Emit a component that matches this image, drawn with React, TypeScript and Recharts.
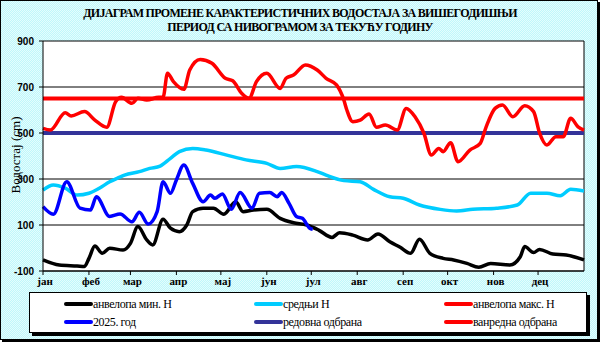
import { LineChart, Line, XAxis, YAxis, CartesianGrid, ReferenceLine } from 'recharts';

const MONTHS = ['јан', 'феб', 'мар', 'апр', 'мај', 'јун', 'јул', 'авг', 'сеп', 'окт', 'нов', 'дец'];
const MONTH_START = [0, 31, 59, 90, 120, 151, 181, 212, 243, 273, 304, 334];
const Y_TICKS = [-100, 100, 300, 500, 700, 900];

// анвелопа мин. H
const minDays = [0, 11, 23, 28, 31, 35, 40, 45, 54, 59, 64, 70, 74, 81, 86, 92, 97, 101, 108, 115, 122, 130, 135, 142, 151, 160, 169, 178, 186, 195, 200, 209, 219, 226, 234, 241, 248, 254, 261, 270, 277, 286, 294, 302, 315, 322, 325, 331, 335, 344, 353, 365];
const minH = [-52, -74, -78, -80, -45, 9, -23, -1, -9, 20, 93, 35, 13, 125, 86, 71, 100, 158, 173, 173, 147, 201, 158, 165, 168, 129, 110, 100, 78, 46, 66, 56, 35, 61, 27, 3, -23, 38, -23, -45, -52, -67, -84, -67, -74, -38, 6, -20, -6, -26, -30, -52];

// средњи H
const meanDays = [0, 7, 15, 23, 31, 38, 45, 51, 55, 65, 72, 79, 86, 92, 101, 110, 124, 137, 151, 160, 171, 185, 191, 203, 214, 223, 234, 243, 254, 268, 279, 290, 306, 320, 329, 340, 349, 356, 365];
const meanH = [252, 274, 260, 230, 238, 260, 288, 306, 317, 332, 346, 356, 390, 419, 433, 426, 404, 383, 368, 346, 354, 332, 317, 293, 288, 255, 223, 216, 187, 168, 161, 168, 173, 187, 238, 238, 227, 255, 248];

// анвелопа макс. H
const maxDays = [0, 5, 15, 19, 28, 35, 43, 49, 53, 60, 64, 70, 78, 81, 84, 88, 95, 99, 106, 114, 123, 128, 134, 139, 144, 151, 160, 164, 169, 177, 185, 191, 198, 203, 205, 209, 214, 220, 225, 231, 239, 245, 251, 257, 262, 267, 270, 275, 280, 288, 295, 299, 305, 310, 317, 325, 331, 335, 340, 346, 351, 356, 361, 365];
const maxH = [520, 513, 588, 574, 593, 556, 525, 636, 655, 629, 651, 643, 655, 655, 760, 723, 690, 774, 820, 803, 738, 727, 673, 651, 723, 760, 694, 738, 752, 796, 774, 738, 709, 643, 600, 549, 556, 583, 525, 535, 513, 607, 571, 499, 404, 433, 419, 458, 375, 426, 455, 527, 607, 622, 571, 619, 593, 501, 448, 484, 484, 564, 527, 513];

// 2025. год
const curDays = [0, 7, 16, 25, 32, 36, 45, 52, 60, 65, 71, 77, 81, 86, 90, 95, 101, 108, 113, 116, 121, 127, 133, 141, 146, 153, 158, 161, 166, 171, 175, 180, 182];
const curH = [180, 147, 288, 173, 165, 223, 137, 148, 114, 155, 104, 158, 288, 238, 296, 361, 281, 201, 230, 216, 235, 168, 241, 173, 238, 241, 223, 241, 194, 137, 129, 86, 81];

const REDOVNA = 500;
const VANREDNA = 650;

const toRows = (days: number[], vals: number[]) => days.map((d, i) => ({ day: d, h: vals[i] }));

const SERIES = [
  { name: 'анвелопа мин. H', color: '#000000', data: toRows(minDays, minH) },
  { name: 'средњи H', color: '#00CCFF', data: toRows(meanDays, meanH) },
  { name: 'анвелопа макс. H', color: '#FF0000', data: toRows(maxDays, maxH) },
  { name: '2025. год', color: '#0000FF', data: toRows(curDays, curH) },
];

const LEGEND = [
  { name: 'анвелопа мин. H', color: '#000000' },
  { name: 'средњи H', color: '#00CCFF' },
  { name: 'анвелопа макс. H', color: '#FF0000' },
  { name: '2025. год', color: '#0000FF' },
  { name: 'редовна одбрана', color: '#333399' },
  { name: 'ванредна одбрана', color: '#FF0000' },
];

const serif = '"Liberation Serif", "Times New Roman", serif';

const MonthTick = ({ x, y, payload }: any) => (
  <text x={x + 2} y={y + 8} textAnchor="middle" fontFamily={serif} fontWeight="bold" fontSize={11} fill="#000">
    {MONTHS[MONTH_START.indexOf(payload.value)]}
  </text>
);

const App = () => (
  <div style={{ position: 'relative', width: 600, height: 343 }}>
    <style>{'body{margin:0}'}</style>
    <div
      style={{
        position: 'absolute', left: 0, top: 0, width: 596, height: 338,
        border: '1px solid #000', boxShadow: '2px 2px 0 #000',
        background: 'repeating-conic-gradient(#bff7fb 0 25%, #e4fdfd 0 50%) 0 0/2px 2px',
      }}
    />
    <div
      style={{
        position: 'absolute', left: 0, top: 6, width: 600, textAlign: 'center',
        fontFamily: serif, fontWeight: 'bold', fontSize: 12, lineHeight: '14px', letterSpacing: -0.7, color: '#000',
      }}
    >
      <div>ДИЈАГРАМ ПРОМЕНЕ КАРАКТЕРИСТИЧНИХ ВОДОСТАЈА ЗА ВИШЕГОДИШЊИ</div>
      <div>ПЕРИОД СА НИВОГРАМОМ ЗА ТЕКУЋУ ГОДИНУ</div>
    </div>
    <div style={{ position: 'absolute', left: 0, top: 0 }}>
      <LineChart width={600} height={343} margin={{ top: 41, right: 16, bottom: 42, left: 0 }}>
        <CartesianGrid fill="#fff" vertical={false} stroke="#000" strokeWidth={1} />
        <XAxis
          dataKey="day"
          type="number"
          domain={[0, 365]}
          ticks={MONTH_START}
          interval={0}
          tick={<MonthTick />}
          tickSize={4}
          axisLine={{ stroke: '#000' }}
          tickLine={{ stroke: '#000' }}
          height={30}
          allowDuplicatedCategory={false}
        />
        <YAxis
          type="number"
          domain={[-100, 900]}
          ticks={Y_TICKS}
          interval={0}
          width={43}
          tickSize={4}
          tickMargin={5}
          tick={{ fontSize: 10, fontWeight: 'bold', fill: '#000', fontFamily: '"Liberation Sans", Arial, sans-serif' }}
          axisLine={{ stroke: '#000' }}
          tickLine={{ stroke: '#000' }}
        />
        <ReferenceLine x={365} stroke="#000" strokeWidth={1} />
        <ReferenceLine y={REDOVNA} stroke="#333399" strokeWidth={4} />
        <ReferenceLine y={VANREDNA} stroke="#FF0000" strokeWidth={4} />
        {SERIES.map((s) => (
          <Line
            key={s.name}
            data={s.data}
            dataKey="h"
            name={s.name}
            type="monotone"
            stroke={s.color}
            strokeWidth={3.5}
            dot={false}
            isAnimationActive={false}
          />
        ))}
      </LineChart>
    </div>
    <div
      style={{
        position: 'absolute', left: 16, top: 155, transform: 'translate(-50%, -50%) rotate(-90deg)',
        fontFamily: serif, fontSize: 13, whiteSpace: 'nowrap', color: '#000',
      }}
    >
      Водостај (cm)
    </div>
    <div
      style={{
        position: 'absolute', left: 29, top: 292, width: 556, height: 39,
        background: '#fff', border: '1px solid #000', boxShadow: '3px 3px 0 #000',
      }}
    >
      {LEGEND.map((l, i) => (
        <div
          key={l.name}
          style={{
            position: 'absolute', left: 34 + (i % 3) * 190, top: 4 + Math.floor(i / 3) * 18, height: 14,
            display: 'flex', alignItems: 'center', fontFamily: serif, fontSize: 12, letterSpacing: -0.4, whiteSpace: 'nowrap',
          }}
        >
          <span style={{ display: 'inline-block', width: 29, height: 4, background: l.color, borderRadius: 2 }} />
          <span>{l.name}</span>
        </div>
      ))}
    </div>
  </div>
);

export default App;
